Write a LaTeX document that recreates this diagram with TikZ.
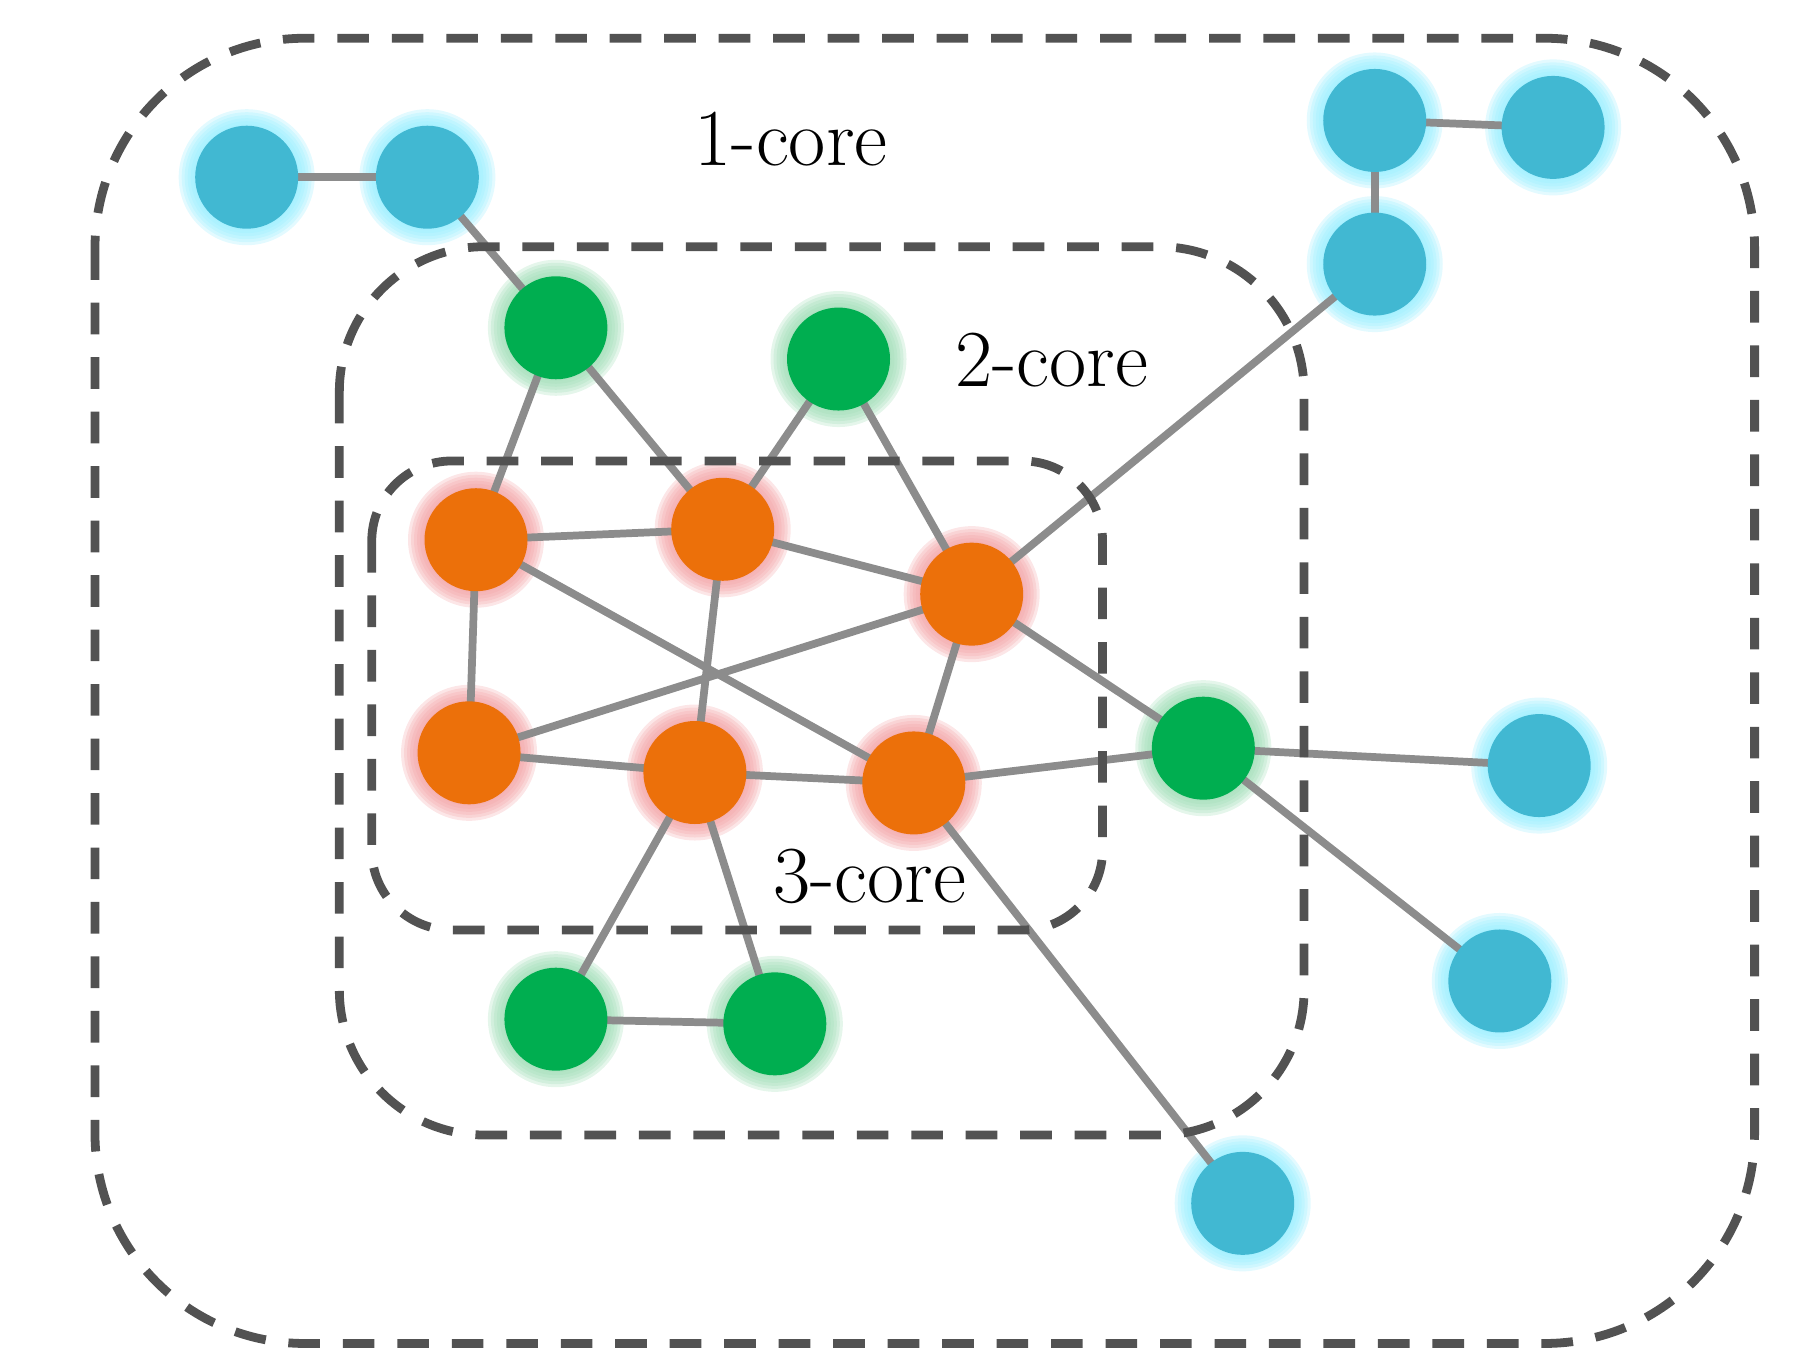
\documentclass[tikz,border=0pt]{standalone}
\usepackage{xcolor}
\usepackage{tikz}

\definecolor{coreblue}{HTML}{41B8D2}
\definecolor{coregreen}{HTML}{00AE50}
\definecolor{coreorange}{HTML}{EC700A}
\definecolor{glowblue}{HTML}{98EEFF}
\definecolor{glowgreen}{HTML}{9FDDB6}
\definecolor{gloworange}{HTML}{F3A3A6}
\definecolor{edgegray}{HTML}{8C8C8C}
\definecolor{boxgray}{HTML}{525252}

\pgfdeclarelayer{glow}
\pgfdeclarelayer{edges}
\pgfsetlayers{glow,edges,main}

\begin{document}
\begin{tikzpicture}[x=0.011582cm,y=-0.011582cm,
	vtx/.style={circle,minimum size=1.03cm,inner sep=0pt},
	one/.style={vtx,fill=coreblue},
	two/.style={vtx,fill=coregreen},
	three/.style={vtx,fill=coreorange},
	edge/.style={edgegray,line width=2.2pt},
	corebox/.style={boxgray,line width=2.5pt,dash pattern=on 9pt off 6.5pt},
	lbl/.style={font=\fontsize{23}{27}\selectfont}]
	\useasboundingbox (0,0) rectangle (1568,1178);

	\draw[corebox,rounded corners=2.1cm] (82,33) rectangle (1515,1160);
	\draw[corebox,rounded corners=1.45cm] (293,213) rectangle (1126,980);
	\draw[corebox,rounded corners=0.8cm] (321,398) rectangle (952,803);

	\node[lbl] (l1) at (683,120) {1-core};
	\node[lbl] (l2) at (908,311) {2-core};
	\node[lbl] (l3) at (751,757) {3-core};

	\node[one] (b1) at (213,153) {};
	\node[one] (b2) at (369,153) {};
	\node[one] (b3) at (1187,104) {};
	\node[one] (b4) at (1341,110) {};
	\node[one] (b5) at (1187,228) {};
	\node[one] (b6) at (1329,661) {};
	\node[one] (b7) at (1295,847) {};
	\node[one] (b8) at (1073,1039) {};

	\node[two] (g1) at (480,283) {};
	\node[two] (g2) at (724,310) {};
	\node[two] (g3) at (1039,646) {};
	\node[two] (g4) at (480,880) {};
	\node[two] (g5) at (669,884) {};

	\node[three] (o1) at (411,466) {};
	\node[three] (o2) at (624,457) {};
	\node[three] (o3) at (839,513) {};
	\node[three] (o4) at (405,650) {};
	\node[three] (o5) at (600,667) {};
	\node[three] (o6) at (789,676) {};

	\begin{pgfonlayer}{glow}
		\foreach \n/\g in {b1/glowblue,b2/glowblue,b3/glowblue,b4/glowblue,b5/glowblue,b6/glowblue,b7/glowblue,b8/glowblue,g1/glowgreen,g2/glowgreen,g3/glowgreen,g4/glowgreen,g5/glowgreen,o1/gloworange,o2/gloworange,o3/gloworange,o4/gloworange,o5/gloworange,o6/gloworange}
			\foreach \r in {0.68,0.65,0.62,0.59,0.56,0.53}
				\fill[\g,opacity=0.27] (\n) circle (\r cm);
	\end{pgfonlayer}

	\begin{pgfonlayer}{edges}
		\foreach \a/\b in {b1/b2,b2/g1,b3/b4,b3/b5,b5/o3,g1/o1,g1/o2,g2/o2,g2/o3,o1/o2,o2/o3,o1/o4,o1/o6,o4/o3,o2/o5,o3/o6,o3/g3,o4/o5,o5/o6,o6/g3,g3/b6,g3/b7,o5/g4,o5/g5,g4/g5,o6/b8}
			\draw[edge] (\a.center) -- (\b.center);
	\end{pgfonlayer}
\end{tikzpicture}
\end{document}
